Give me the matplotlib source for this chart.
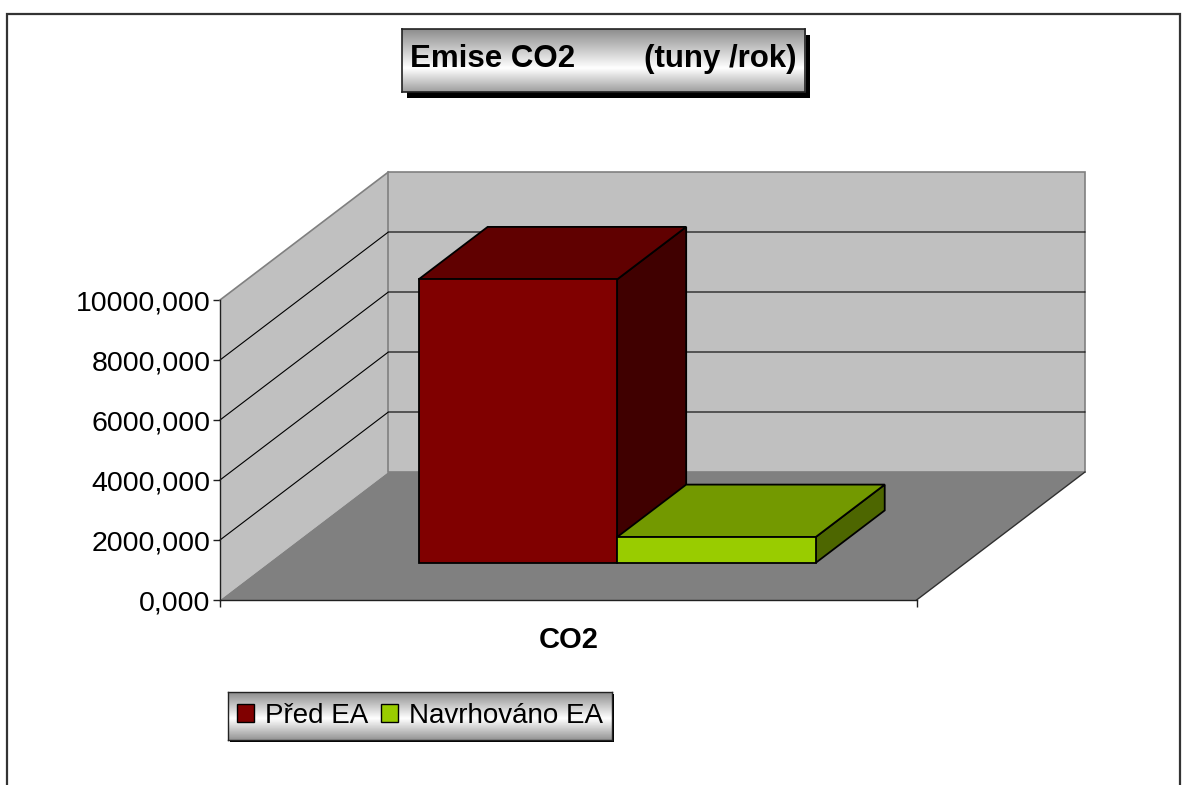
import numpy as np
import matplotlib
matplotlib.use("Agg")
import matplotlib.pyplot as plt
from matplotlib.patches import Polygon, Rectangle, Patch
from matplotlib.lines import Line2D
from matplotlib.ticker import FuncFormatter

plt.rcParams['font.family'] = ['Liberation Sans', 'DejaVu Sans']

# ---------------- data ----------------
title_left = "Emise CO2"
title_right = "(tuny /rok)"
category = "CO2"
series_names = ["Před EA", "Navrhováno EA"]
series_values = [9450, 860]
y_ticks = [0, 2000, 4000, 6000, 8000, 10000]

# ---------------- style ----------------
front_cols = ["#800000", "#99CC00"]
top_cols = ["#600000", "#739900"]
side_cols = ["#400000", "#4D6600"]
WALL = "#C0C0C0"
FLOOR = "#808080"
EDGE_GRAY = "#808080"

W, H, DPI = 1188, 785, 100
fig = plt.figure(figsize=(W / DPI, H / DPI), dpi=DPI)

def fx(px):
    return px / W

def fy(py):
    return 1 - py / H

# outer border
fig.patches.append(Rectangle((fx(7), fy(800)), fx(1180) - fx(7), fy(14) - fy(800),
                             transform=fig.transFigure, fill=False,
                             edgecolor="#333333", linewidth=1.6, zorder=0))

# ---------------- plot area (oblique 3D) ----------------
YMAX = y_ticks[-1]
left_px, right_px, top_px, bottom_px = 220, 1085, 172, 600
cat_px = 695            # pixels per category unit
val_px = 30 / 1000      # pixels per value unit
depth_px = (168, 128)
DX = depth_px[0] / cat_px
DY = depth_px[1] / val_px

ax = fig.add_axes([fx(left_px), fy(bottom_px), fx(right_px) - fx(left_px), fy(top_px) - fy(bottom_px)])
ax.set_xlim(0, 1 + DX)
ax.set_ylim(0, YMAX + DY)
ax.patch.set_alpha(0)

# walls and floor
ax.add_patch(Polygon([(0, 0), (0, YMAX), (DX, YMAX + DY), (DX, DY)], closed=True,
                     facecolor=WALL, edgecolor="none", zorder=1, clip_on=False))
ax.add_patch(Polygon([(DX, DY), (DX, YMAX + DY), (1 + DX, YMAX + DY), (1 + DX, DY)], closed=True,
                     facecolor=WALL, edgecolor=EDGE_GRAY, linewidth=1.2, zorder=1, clip_on=False))
ax.add_patch(Polygon([(0, 0), (DX, DY), (1 + DX, DY), (1, 0)], closed=True,
                     facecolor=FLOOR, edgecolor="none", zorder=1.5, clip_on=False))
ax.add_line(Line2D([0, DX], [YMAX, YMAX + DY], color=EDGE_GRAY, lw=1.2, zorder=2, clip_on=False))
ax.add_line(Line2D([1, 1 + DX], [0, DY], color="#303030", lw=1.0, zorder=2, clip_on=False))

# gridlines
for v in y_ticks[1:-1]:
    ax.add_line(Line2D([0, DX, 1 + DX], [v, v + DY, v + DY], color="black", lw=0.8,
                       zorder=2, clip_on=False))

# bars
bar_w = 0.285
z0, z1 = 0.29, 0.70
start = 0.5 - bar_w * len(series_values) / 2
for i, val in enumerate(series_values):
    x0 = start + i * bar_w
    x1 = x0 + bar_w
    b0 = z0 * DY
    b1 = z1 * DY
    front = [(x0 + z0 * DX, b0), (x1 + z0 * DX, b0), (x1 + z0 * DX, b0 + val), (x0 + z0 * DX, b0 + val)]
    top = [(x0 + z0 * DX, b0 + val), (x1 + z0 * DX, b0 + val), (x1 + z1 * DX, b1 + val), (x0 + z1 * DX, b1 + val)]
    side = [(x1 + z0 * DX, b0), (x1 + z1 * DX, b1), (x1 + z1 * DX, b1 + val), (x1 + z0 * DX, b0 + val)]
    for poly, col in ((side, side_cols[i]), (top, top_cols[i]), (front, front_cols[i])):
        ax.add_patch(Polygon(poly, closed=True, facecolor=col, edgecolor="black",
                             linewidth=1.3, joinstyle="miter", zorder=3 + i, clip_on=False))

# axes spines / ticks
for s in ("top", "right"):
    ax.spines[s].set_visible(False)
ax.spines["left"].set_bounds(0, YMAX)
ax.spines["bottom"].set_bounds(0, 1)
for s in ("left", "bottom"):
    ax.spines[s].set_color("#202020")
    ax.spines[s].set_linewidth(1.0)
    ax.spines[s].set_zorder(5)
ax.set_yticks(y_ticks)
ax.yaxis.set_major_formatter(FuncFormatter(lambda v, p: f"{int(v)},000"))
ax.tick_params(axis="y", direction="out", length=5, width=1, color="#202020",
               labelsize=20.5, pad=2)
ax.set_xticks([0, 1])
ax.set_xticklabels(["", ""])
ax.set_xticks([0.5], minor=True)
ax.set_xticklabels([category], minor=True, fontsize=21, fontweight="bold")
ax.tick_params(axis="x", which="major", direction="out", length=5, width=1, color="#202020")
ax.tick_params(axis="x", which="minor", length=0, pad=19)

# ---------------- gradient boxes ----------------
def gradient_box(x0, y0, x1, y1, stops, shadow=(0, 0), lw=1.2):
    if shadow != (0, 0):
        fig.patches.append(Rectangle((fx(x0 + shadow[0]), fy(y1 + shadow[1])),
                                     fx(x1) - fx(x0), fy(y0) - fy(y1),
                                     transform=fig.transFigure, facecolor="black",
                                     edgecolor="none", zorder=8))
    bax = fig.add_axes([fx(x0), fy(y1), fx(x1) - fx(x0), fy(y0) - fy(y1)], zorder=9)
    t = np.linspace(0, 1, 256)
    pos, vals = zip(*stops)
    g = np.interp(t, pos, vals)
    img = np.repeat(g[:, None], 2, axis=1)
    bax.imshow(img, cmap="gray", vmin=0, vmax=1, aspect="auto",
               extent=(0, 1, 1, 0), interpolation="bilinear")
    bax.set_xlim(0, 1)
    bax.set_ylim(1, 0)
    bax.set_xticks([])
    bax.set_yticks([])
    for s in bax.spines.values():
        s.set_color("#222222")
        s.set_linewidth(lw)
    return bax

# title
tax = gradient_box(402, 29, 805, 92, [(0, 0.55), (0.62, 1.0), (1.0, 0.62)], shadow=(5, 6))
tax.text(0.5, 0.52, f"{title_left}        {title_right}", ha="center", va="center",
         fontsize=22.5, fontweight="bold", transform=tax.transAxes)

# legend
lax = gradient_box(228, 692, 612, 740, [(0, 0.55), (0.55, 1.0), (1.0, 0.58)], shadow=(2, 2), lw=1.0)
handles = [Patch(facecolor=c, edgecolor="black", linewidth=1.0) for c in front_cols]
leg = lax.legend(handles, series_names, loc="center", ncol=2, frameon=False, fontsize=20,
                 handlelength=0.6, handleheight=0.6, handletextpad=0.4, columnspacing=0.45,
                 borderpad=0, borderaxespad=0)

fig.savefig("out.png", dpi=DPI)
